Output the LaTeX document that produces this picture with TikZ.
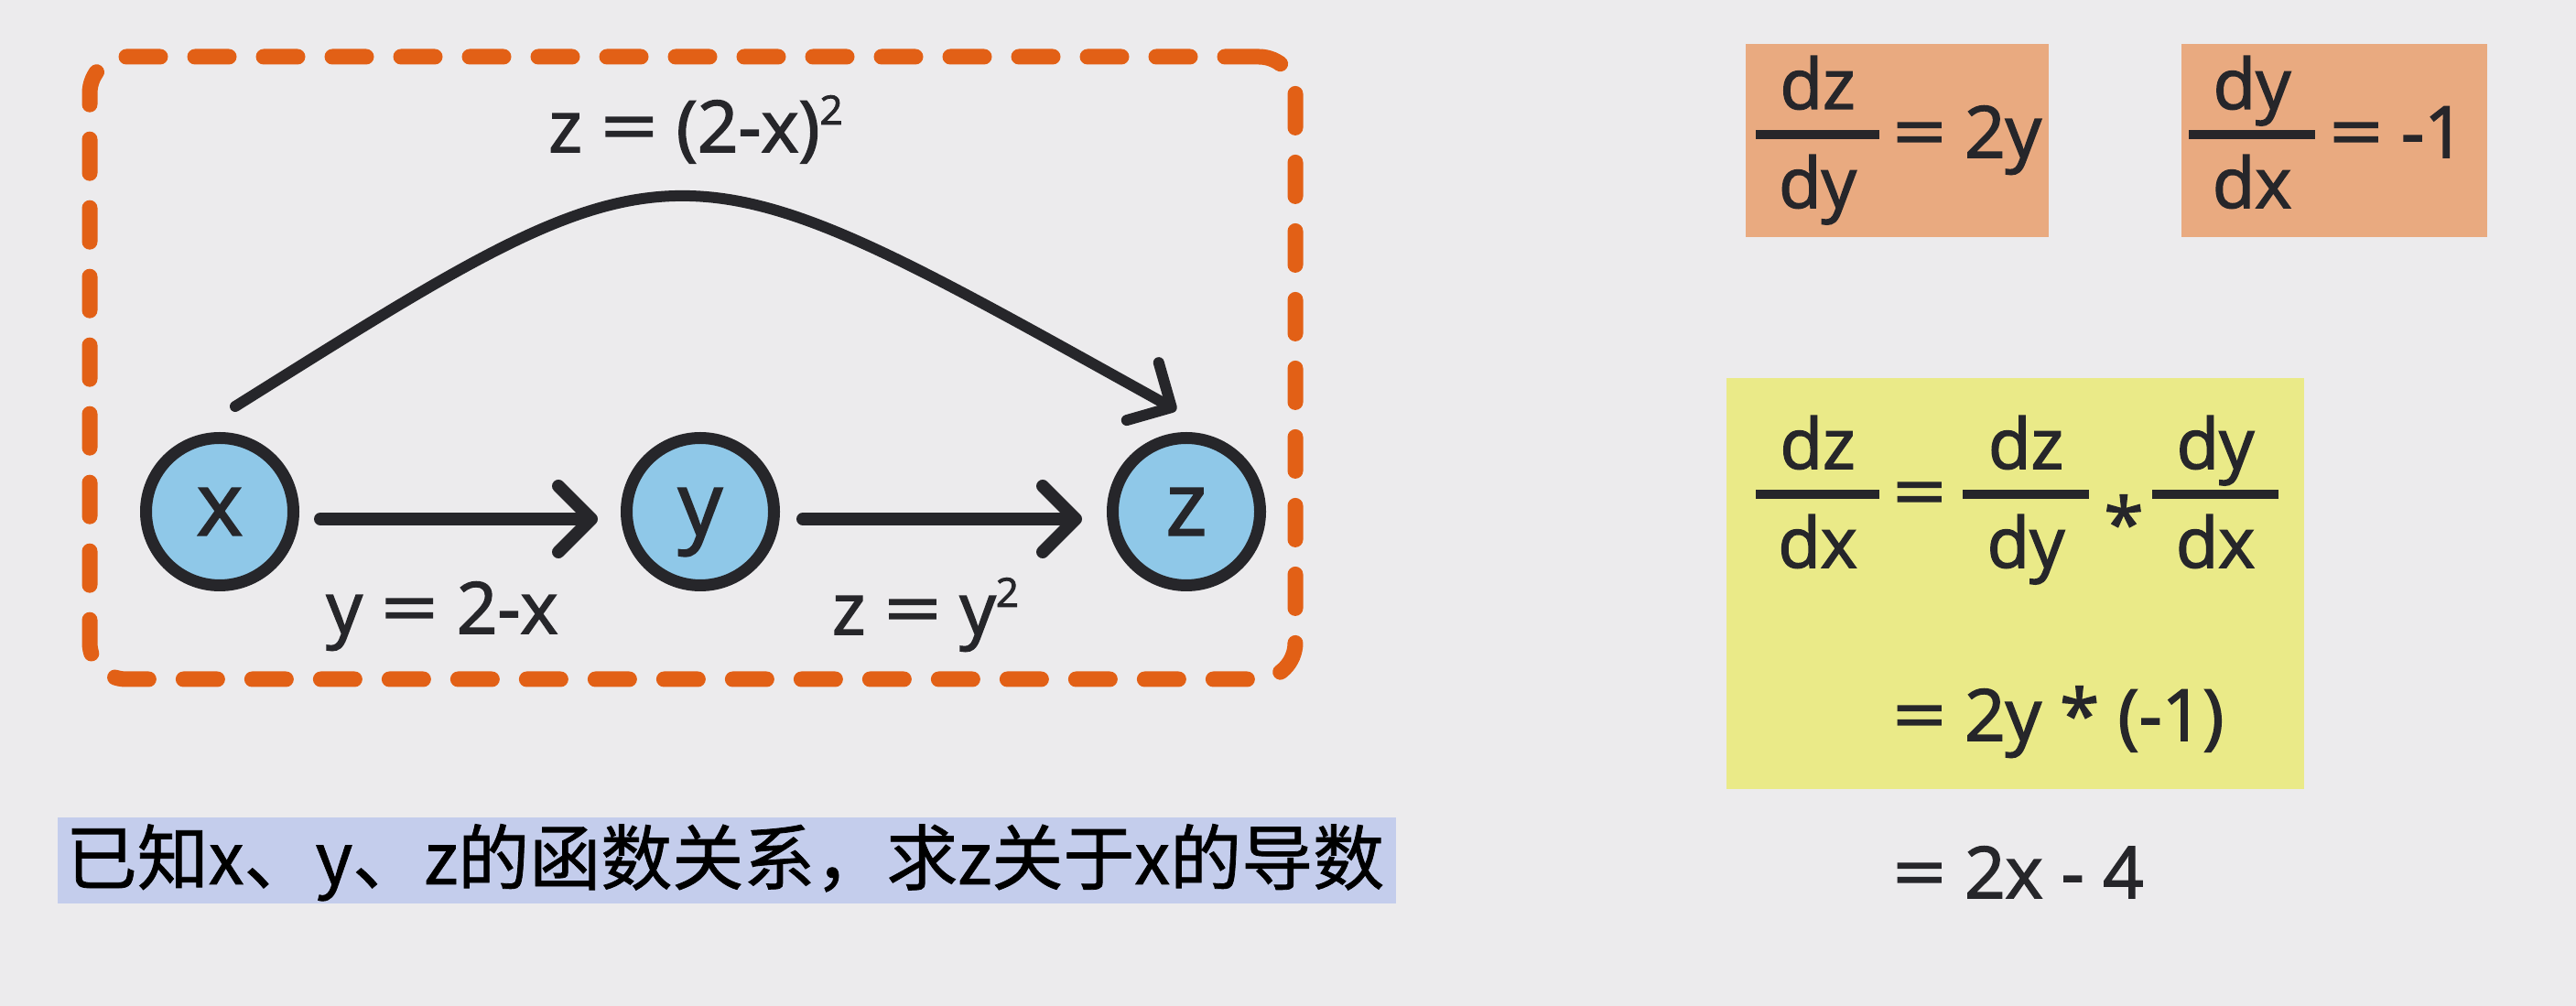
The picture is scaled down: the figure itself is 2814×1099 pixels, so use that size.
\documentclass[tikz,border=0pt]{standalone}
\usepackage{fontspec}
\setmainfont{Open Sans}[FakeBold=2]
\newfontfamily\cjk{Noto Sans CJK SC}[FakeBold=1]
\usetikzlibrary{arrows.meta}
\definecolor{bgc}{RGB}{236,235,237}
\definecolor{frameor}{RGB}{226,96,22}
\definecolor{circfill}{RGB}{143,200,232}
\definecolor{ink}{RGB}{38,38,42}
\definecolor{orbox}{RGB}{233,170,128}
\definecolor{yebox}{RGB}{234,234,136}
\definecolor{bandc}{RGB}{196,205,236}
\newcommand\eqs{\scalebox{1.3}[1]{=}}
\newcommand\eql{\scalebox{1.4}[1]{=}}
\newcommand\sqr{\raisebox{7.5pt}{\fontsize{11pt}{11pt}\selectfont 2}}
% fraction: #1 name, #2 centre x, #3 bar y, #4 bar width, #5 numerator, #6 denominator
\newcommand\frc[6]{%
  \node[fbar, minimum width=#4] (#1b) at (#2,#3) {};
  \node[ftxt, anchor=base] (#1n) at (#2,#3-28) {#5};
  \node[ftxt, anchor=base] (#1d) at (#2,#3+80) {#6};
}
\begin{document}
\begin{tikzpicture}[x=0.25pt,y=-0.25pt,
  circ/.style={circle, draw=ink, fill=circfill, line width=3.25pt, minimum size=40.25pt,
    inner sep=0pt, text=ink, font=\fontsize{24pt}{24pt}\selectfont, text height=12.8pt, text depth=0pt},
  arr/.style={draw=ink, line width=3.5pt, line cap=round, -{Straight Barb[length=9pt,width=18pt,round]}},
  carr/.style={draw=ink, line width=3pt, line cap=round, -{Straight Barb[length=9pt,width=18pt,round]}},
  lbl/.style={text=ink, font=\fontsize{19.5pt}{19.5pt}\selectfont, inner sep=0pt},
  ftxt/.style={text=ink, font=\fontsize{19pt}{19pt}\selectfont, inner sep=0pt},
  eqtxt/.style={text=ink, font=\fontsize{19.5pt}{19.5pt}\selectfont, inner sep=0pt},
  fbar/.style={fill=ink, inner sep=0pt, minimum height=2.5pt},
  framebox/.style={draw=frameor, line width=4.25pt, rounded corners=10pt,
    dash pattern=on 9.25pt off 9.5pt, line cap=round, inner sep=0pt},
]
\useasboundingbox (0,0) rectangle (2814,1099);
\fill[bgc] (0,0) rectangle (2814,1099);

% dashed frame
\node[framebox, minimum width=329.25pt, minimum height=170pt] (frame) at (756.5,402) {};

% nodes
\node[circ] (x) at (240,559) {x};
\node[circ] (y) at (765,559) {y};
\node[circ] (z) at (1296,559) {z};

% connectors
\draw[arr, shorten <=5.75pt, shorten >=6.25pt] ([shift={(0,8)}]x.east) -- ([shift={(0,8)}]y.west);
\draw[arr, shorten <=6.25pt, shorten >=6.75pt] ([shift={(0,8)}]y.east) -- ([shift={(0,8)}]z.west);
\draw[carr] ([shift={(17,-28)}]x.north) .. controls (750,135) and (730,140) .. ([shift={(-11,-24)}]z.north);

% labels
\node[lbl, anchor=base] (lxz) at (760,166) {z \eql{} (2-x)\sqr};
\node[lbl, anchor=base] (lxy) at (483,692) {y \eql{} 2-x};
\node[lbl, anchor=base] (lyz) at (1011,693) {z \eql{} y\sqr};

% question band
\node[fill=bandc, inner sep=0pt, minimum width=365.5pt, minimum height=23.5pt] (band) at (794,940) {};
\node[anchor=base, inner sep=0pt, text=black, font=\cjk\fontsize{19.5pt}{19.5pt}\selectfont] (q) at (792,966) {已知x、y、z的函数关系，求z关于x的导数};

% orange boxes
\node[fill=orbox, inner sep=0pt, minimum width=82.75pt, minimum height=52.75pt] (ob1) at (2072.5,153.5) {};
\node[fill=orbox, inner sep=0pt, minimum width=83.5pt, minimum height=52.75pt] (ob2) at (2550,153.5) {};
\frc{fa}{1985.5}{147}{33.75pt}{dz}{dy}
\node[eqtxt, anchor=base west] (ea) at (2067,172) {\eqs{} 2y};
\frc{fb}{2460}{147}{34.5pt}{dy}{dx}
\node[eqtxt, anchor=base west] (eb) at (2544,172) {\eqs{} -1};

% yellow box
\node[fill=yebox, inner sep=0pt, minimum width=157.75pt, minimum height=112.25pt] (yb) at (2201.5,637.5) {};
\frc{fc}{1985.5}{540}{33.75pt}{dz}{dx}
\node[eqtxt, anchor=base west] (ec) at (2067,565) {\eqs};
\frc{fd}{2213}{540}{34.5pt}{dz}{dy}
\node[eqtxt, anchor=base] (st) at (2320,600) {*};
\frc{fe}{2420}{540}{34.5pt}{dy}{dx}
\node[eqtxt, anchor=base west] (l2) at (2067,809) {\eqs{} 2y * (-1)};
\node[eqtxt, anchor=base west] (l3) at (2067,981) {\eqs{} 2x - 4};
\end{tikzpicture}
\end{document}
